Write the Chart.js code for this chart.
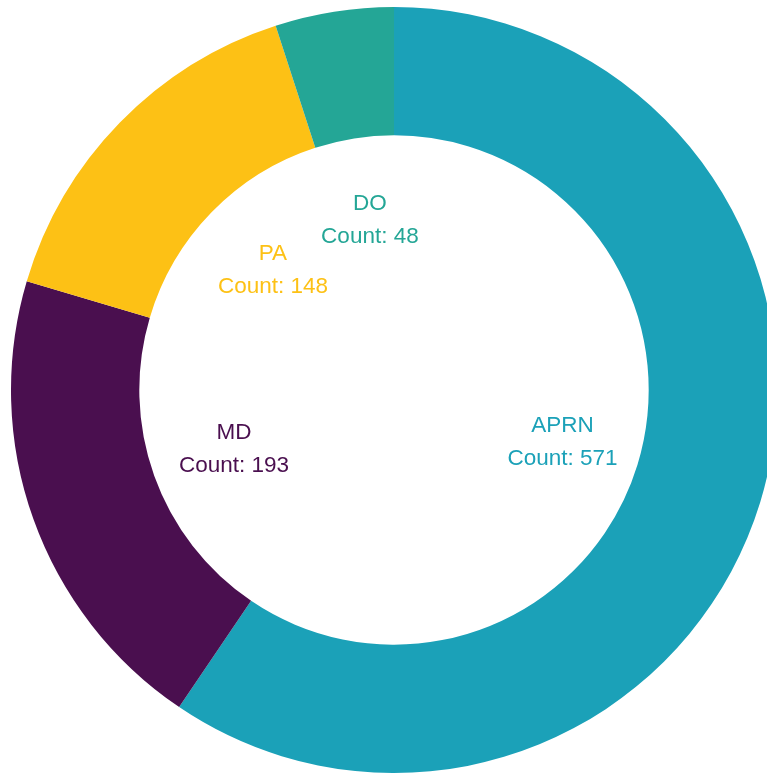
<!DOCTYPE html>
<html>
<head>
<meta charset="utf-8">
<script src="https://cdn.jsdelivr.net/npm/chart.js@4/dist/chart.umd.min.js"></script>
<style>
  html, body { margin: 0; padding: 0; overflow: hidden; background: #fff; }
  #wrap { width: 788px; height: 780px; }
</style>
</head>
<body>
<div id="wrap"><canvas id="donut" width="788" height="780"></canvas></div>
<script>
const categories = ["APRN", "MD", "PA", "DO"];
const counts = [571, 193, 148, 48];
const colors = ["#1ba1b8", "#4a0f4f", "#fdc115", "#24a696"];

// labels drawn inside the hole, at each slice's mid angle
const innerLabels = {
  id: "innerLabels",
  afterDatasetsDraw(chart) {
    const ctx = chart.ctx;
    const meta = chart.getDatasetMeta(0);
    ctx.save();
    ctx.font = "22.5px 'Liberation Sans', Arial, sans-serif";
    ctx.textAlign = "center";
    ctx.textBaseline = "middle";
    meta.data.forEach((arc, i) => {
      const p = arc.getProps(["x", "y", "startAngle", "endAngle", "innerRadius"], true);
      const mid = (p.startAngle + p.endAngle) / 2;
      const r = p.innerRadius * 0.68;
      const x = p.x + Math.cos(mid) * r + 3;
      const y = p.y + Math.sin(mid) * r + 1;
      ctx.fillStyle = colors[i];
      ctx.fillText(categories[i], x, y - 16.5);
      ctx.fillText("Count: " + counts[i], x, y + 16.5);
    });
    ctx.restore();
  },
};

new Chart(document.getElementById("donut").getContext("2d"), {
  type: "doughnut",
  data: {
    labels: categories,
    datasets: [
      {
        data: counts,
        backgroundColor: colors,
        borderWidth: 0,
      },
    ],
  },
  options: {
    responsive: false,
    animation: false,
    cutout: "66.5%",
    layout: { padding: 7 },
    plugins: {
      legend: { display: false },
      tooltip: { enabled: false },
    },
  },
  plugins: [innerLabels],
});
</script>
</body>
</html>
